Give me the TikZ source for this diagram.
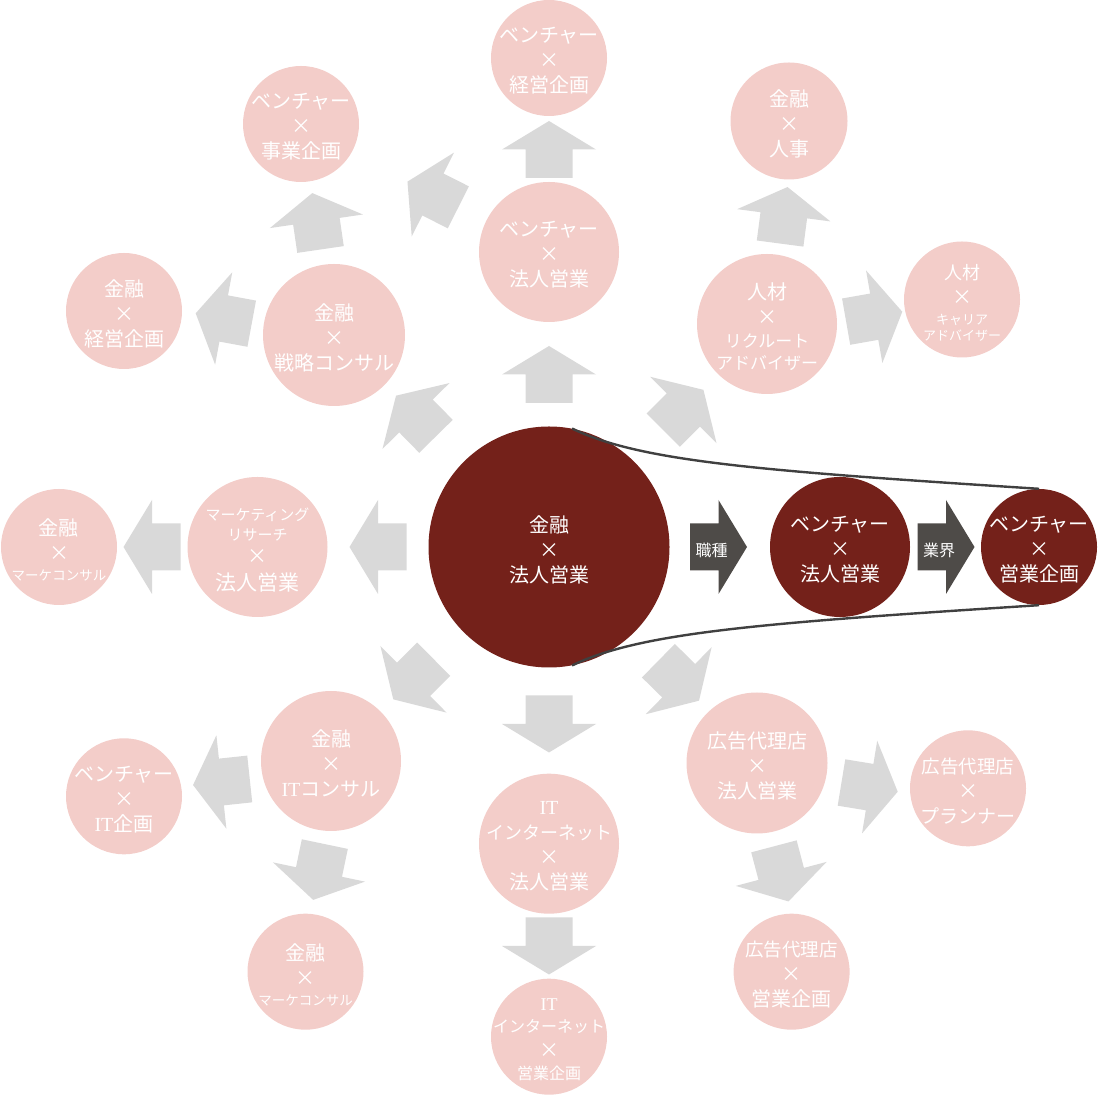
\documentclass[tikz,border=0pt]{standalone}
\usepackage{fontspec}
\newfontfamily\jp{Noto Sans CJK JP}
\newfontfamily\romain{Liberation Serif}
\newcommand\taille[2]{{\fontsize{#1}{#1}\selectfont #2}}
\definecolor{rouge}{HTML}{74211A}
\definecolor{rose}{HTML}{F3CDC9}
\definecolor{gris}{HTML}{D9D9D9}
\definecolor{grisfonce}{HTML}{4E4B48}
\definecolor{trait}{HTML}{404040}
\tikzset{
  bulle/.style={circle, inner sep=0pt, fill=#1},
  texte/.style={text=white, align=center, inner sep=0pt, yshift=-3pt, font=\jp\fontsize{20}{25}\selectfont},
  fleche/.pic={\fill[#1] (-28.5,-23.5) -- (0,-23.5) -- (0,-47) -- (28.5,0) -- (0,47) -- (0,23.5) -- (-28.5,23.5) -- cycle;},
}
\begin{document}
\begin{tikzpicture}[x=1pt,y=1pt]
\useasboundingbox (0,0) rectangle (1100,1095);

% Cercles du parcours
\node[bulle=rouge, minimum size=241pt] (c0) at (549,548) {};
\node[bulle=rouge, minimum size=116pt] (c2) at (1039,548) {};

% Entonnoir
\draw[trait, line width=2.4pt] (c0.79) .. controls +(68,-33) and +(-280,18) .. (c2.north);
\draw[trait, line width=2.4pt] (c0.-79) .. controls +(68,33) and +(-280,-18) .. (c2.south);
\node[bulle=rouge, minimum size=140pt] (c1) at (840,548) {};

% Cercles des autres carrières
\node[bulle=rose, minimum size=116pt] (p1) at (549,1037) {};
\node[bulle=rose, minimum size=140pt] (p2) at (549,843) {};
\node[bulle=rose, minimum size=116pt] (p3) at (301,971) {};
\node[bulle=rose, minimum size=116pt] (p4) at (124,784) {};
\node[bulle=rose, minimum size=142pt] (p5) at (334,760) {};
\node[bulle=rose, minimum size=117pt] (p6) at (789,974) {};
\node[bulle=rose, minimum size=140pt] (p7) at (767,771) {};
\node[bulle=rose, minimum size=116pt] (p8) at (962,795.5) {};
\node[bulle=rose, minimum size=140pt] (p9) at (257.5,548) {};
\node[bulle=rose, minimum size=116pt] (p10) at (59,548) {};
\node[bulle=rose, minimum size=140pt] (p11) at (331,334) {};
\node[bulle=rose, minimum size=116pt] (p12) at (124,298.7) {};
\node[bulle=rose, minimum size=116pt] (p13) at (305.5,123.3) {};
\node[bulle=rose, minimum size=140pt] (p14) at (549,251.3) {};
\node[bulle=rose, minimum size=116pt] (p15) at (549,58.3) {};
\node[bulle=rose, minimum size=141pt] (p16) at (757,332) {};
\node[bulle=rose, minimum size=116pt] (p17) at (968,306.7) {};
\node[bulle=rose, minimum size=116pt] (p18) at (791.6,123.3) {};

% Flèches grises
\pic[rotate=90] (a1) at (549,720.5) {fleche=gris};
\pic[rotate=90] (a2) at (549,945.5) {fleche=gris};
\pic[rotate=180] (a3) at (378,548) {fleche=gris};
\pic[rotate=180] (a4) at (152,548) {fleche=gris};
\pic[rotate=134.5] (a5) at (416,679) {fleche=gris};
\pic[rotate=98.3] (a6) at (316.4,873.7) {fleche=gris};
\pic[rotate=169.5] (a7) at (223.7,776.5) {fleche=gris};
\pic[rotate=153.2] (a8) at (432.9,900.5) {fleche=gris};
\pic[rotate=224.8] (a9) at (413.5,415.7) {fleche=gris};
\pic[rotate=-44.5] (a10) at (678.7,414.3) {fleche=gris};
\pic[rotate=45] (a11) at (683.3,685) {fleche=gris};
\pic[rotate=-90] (a12) at (549,371) {fleche=gris};
\pic[rotate=-90] (a13) at (549,149) {fleche=gris};
\pic[rotate=186.1] (a14) at (221.4,313) {fleche=gris};
\pic[rotate=258.2] (a15) at (319,223) {fleche=gris};
\pic[rotate=82.5] (a16) at (783.8,879.7) {fleche=gris};
\pic[rotate=10] (a17) at (874.2,778.3) {fleche=gris};
\pic[rotate=-9.3] (a18) at (869.6,307.9) {fleche=gris};
\pic[rotate=-75.2] (a19) at (781.2,221.1) {fleche=gris};

% Flèches foncées
\pic (d1) at (718.5,548) {fleche=grisfonce};
\pic (d2) at (946,548) {fleche=grisfonce};
\node[texte, font=\jp\fontsize{16}{16}\selectfont] (l1) at (711.5,548) {職種};
\node[texte, font=\jp\fontsize{16}{16}\selectfont] (l2) at (939,548) {業界};

% Textes
\node[texte] (t0) at (c0) {金融\\×\\法人営業};
\node[texte] (t1) at (c1) {ベンチャー\\×\\法人営業};
\node[texte] (t2) at (c2) {ベンチャー\\×\\営業企画};
\node[texte] (tp1) at (p1) {ベンチャー\\×\\経営企画};
\node[texte] (tp2) at (p2) {ベンチャー\\×\\法人営業};
\node[texte] (tp3) at (p3) {ベンチャー\\×\\事業企画};
\node[texte] (tp4) at (p4) {金融\\×\\経営企画};
\node[texte] (tp5) at (p5) {金融\\×\\戦略コンサル};
\node[texte] (tp6) at (p6) {金融\\×\\人事};
\node[texte] (tp7) at (p7) {人材\\×\\[-2pt]\taille{17}{リクルート}\\[-3pt]\taille{17}{アドバイザー}};
\node[texte] (tp8) at (p8) {\taille{18}{人材}\\×\\[-5pt]\taille{13}{キャリア}\\[-9pt]\taille{13}{アドバイザー}};
\node[texte] (tp9) at (p9) {\taille{15}{マーケティング}\\[-5pt]\taille{15}{リサーチ}\\[-2pt]×\\[2pt]\taille{21}{法人営業}};
\node[texte] (tp10) at (p10) {金融\\×\\[-5pt]\taille{13.5}{マーケコンサル}};
\node[texte] (tp11) at (p11) {金融\\×\\{\romain IT}コンサル};
\node[texte] (tp12) at (p12) {ベンチャー\\×\\{\romain IT}企画};
\node[texte] (tp13) at (p13) {金融\\×\\[-5pt]\taille{13.5}{マーケコンサル}};
\node[texte] (tp14) at (p14) {{\romain IT}\\\taille{18}{インターネット}\\×\\法人営業};
\node[texte] (tp15) at (p15) {\taille{18}{\romain IT}\\[-3pt]\taille{16}{インターネット}\\×\\[-3pt]\taille{16}{営業企画}};
\node[texte] (tp16) at (p16) {広告代理店\\×\\法人営業};
\node[texte] (tp17) at (p17) {\taille{18.5}{広告代理店}\\×\\\taille{19}{プランナー}};
\node[texte] (tp18) at (p18) {\taille{18.5}{広告代理店}\\×\\営業企画};

\end{tikzpicture}
\end{document}
